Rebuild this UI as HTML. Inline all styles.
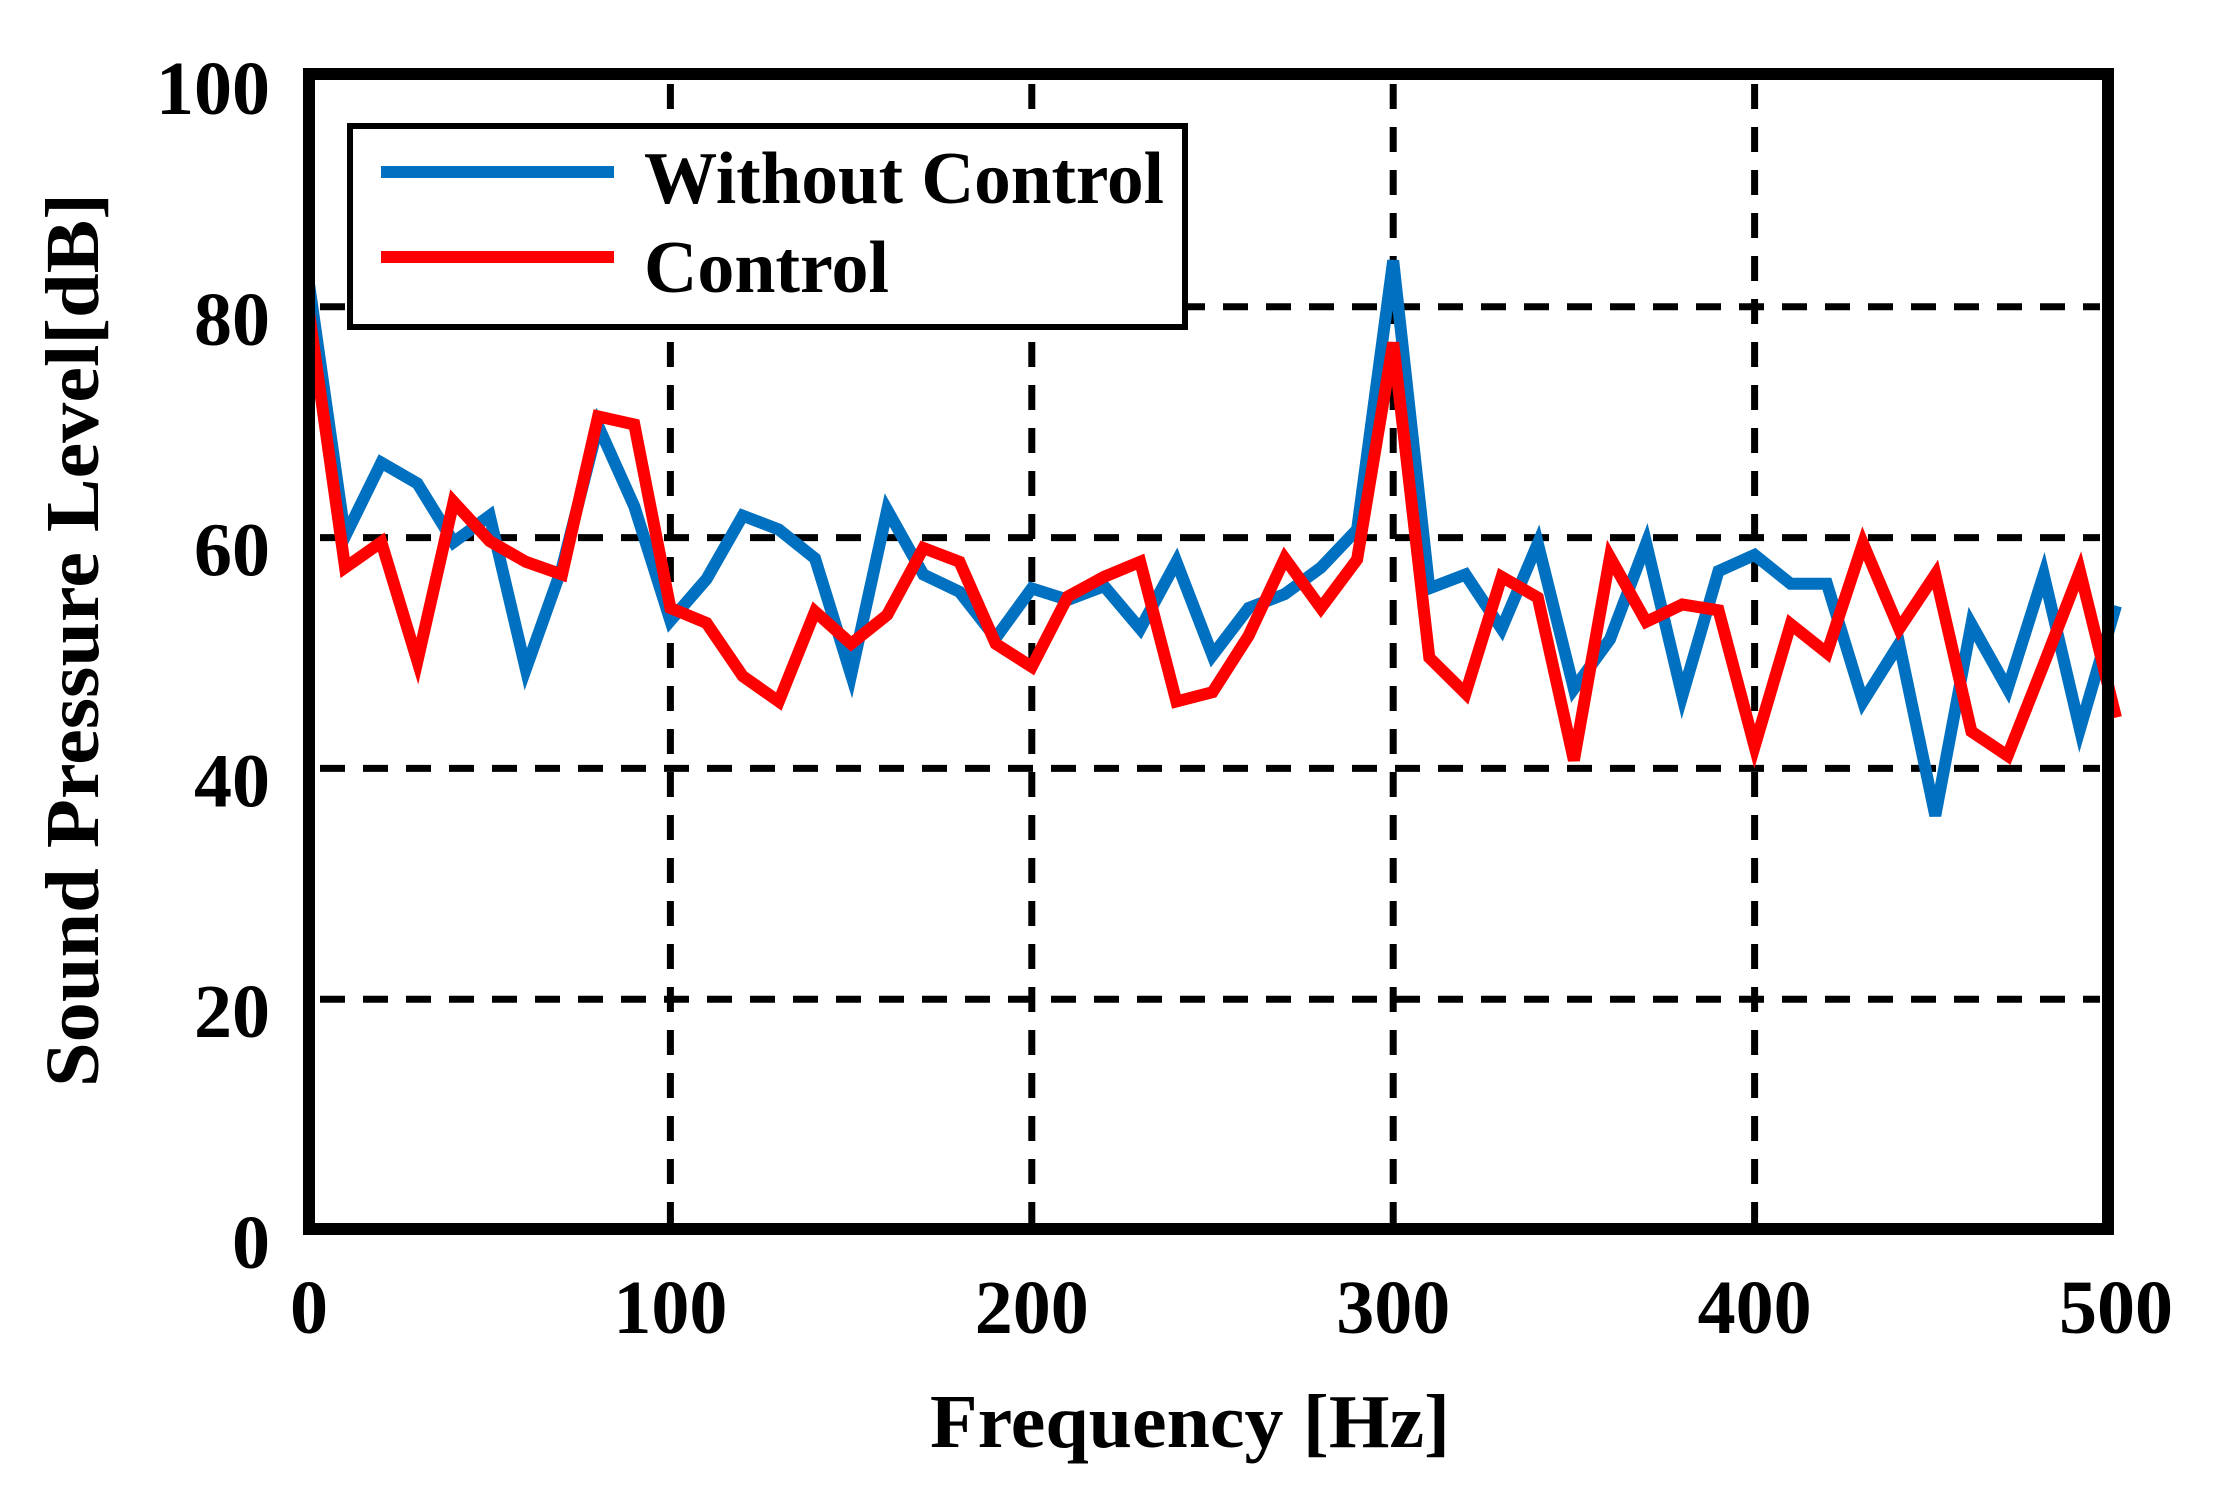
<!DOCTYPE html>
<html><head><meta charset="utf-8"><style>
html,body{margin:0;padding:0;background:#fff;}
svg{display:block;}
text{font-family:"Liberation Serif",serif;font-weight:bold;fill:#000;}
</style></head><body>
<svg id="chart" width="2218" height="1485" viewBox="0 0 2218 1485" xmlns="http://www.w3.org/2000/svg">
<g id="grid"></g>
<g id="series"></g>
<rect x="309" y="74" width="1799" height="1155" fill="none" stroke="#000" stroke-width="12"/>
<g id="ticks"></g>
<text x="930" y="1447" font-size="76" textLength="520" lengthAdjust="spacingAndGlyphs">Frequency  [Hz]</text>
<text transform="translate(98,640) rotate(-90)" x="0" y="0" font-size="76" text-anchor="middle" textLength="894" lengthAdjust="spacingAndGlyphs">Sound  Pressure Level[dB]</text>
<g>
<rect x="350" y="126" width="835" height="201" fill="#fff" stroke="#000" stroke-width="6"/>
<line x1="381" y1="172" x2="614" y2="172" stroke="#0070C0" stroke-width="12"/>
<text x="644" y="203" font-size="74" textLength="520" lengthAdjust="spacingAndGlyphs">Without Control</text>
<line x1="381" y1="257" x2="614" y2="257" stroke="#FF0000" stroke-width="12"/>
<text x="644" y="292" font-size="74" textLength="245" lengthAdjust="spacingAndGlyphs">Control</text>
</g>
</svg>
<script>
const freqs = [0,10,20,30,40,50,60,70,80,90,100,110,120,130,140,150,160,170,180,190,200,210,220,230,240,250,260,270,280,290,300,310,320,330,340,350,360,370,380,390,400,410,420,430,440,450,460,470,480,490,500];
const withoutControl = [82,60.1,66.5,64.7,59.6,61.9,48.6,57.4,69.7,62.7,52.8,56.4,61.9,60.7,58.2,48.1,62.4,56.8,55.3,51.3,55.6,54.6,55.8,52.1,57.9,49.8,53.9,55.1,57.4,60.7,84.0,55.6,56.8,52.1,59.5,46.9,51.2,59.5,46.3,57.1,58.5,56.0,56.0,45.8,50.8,35.9,52.5,46.9,56.8,43.4,54.1];
const control = [79.5,57.4,59.6,49.3,63.1,59.7,57.9,56.8,70.5,69.8,53.9,52.6,48.0,45.8,53.6,50.8,53.3,59.1,57.9,50.8,48.8,54.9,56.6,57.9,45.8,46.6,51.5,58.2,53.9,58.1,76.9,49.6,46.5,56.6,54.8,40.7,58.3,52.7,54.2,53.7,41.9,52.5,50.0,59.5,52.1,56.8,43.2,41.1,49.0,57.1,44.4];
const xTicks = [0,100,200,300,400,500];
const yTicks = [0,20,40,60,80,100];
const NS = "http://www.w3.org/2000/svg";
function xs(v){ return 309 + v * 3.614; }
function ys(v){ return 1230 - v * 11.54; }
const grid = document.getElementById('grid');
const ticks = document.getElementById('ticks');
const series = document.getElementById('series');
xTicks.forEach(function(t){
  if (t > 0 && t < 500) {
    const l = document.createElementNS(NS,'line');
    
    
    l.setAttribute('x1', xs(t)); l.setAttribute('x2', xs(t));
    l.setAttribute('y1', 84); l.setAttribute('y2', 1224);
    l.setAttribute('stroke', '#000'); l.setAttribute('stroke-width', 7);
    l.setAttribute('stroke-dasharray', '25 18');
    grid.appendChild(l);
  }
  const tx = document.createElementNS(NS,'text');
  
  
  tx.setAttribute('x', xs(t)); tx.setAttribute('y', 1333);
  tx.setAttribute('font-size', 76); tx.setAttribute('text-anchor', 'middle');
  tx.textContent = t;
  ticks.appendChild(tx);
});
yTicks.forEach(function(t){
  if (t > 0 && t < 100) {
    const l = document.createElementNS(NS,'line');
    
    
    l.setAttribute('x1', 320); l.setAttribute('x2', 2100);
    l.setAttribute('y1', ys(t)); l.setAttribute('y2', ys(t));
    l.setAttribute('stroke', '#000'); l.setAttribute('stroke-width', 7);
    l.setAttribute('stroke-dasharray', '25 18');
    grid.appendChild(l);
  }
  const tx = document.createElementNS(NS,'text');
  
  
  tx.setAttribute('x', 270); tx.setAttribute('y', ys(t) + 38);
  tx.setAttribute('font-size', 76); tx.setAttribute('text-anchor', 'end');
  tx.textContent = t;
  ticks.appendChild(tx);
});
function drawLine(vals, color, name){
  const p = document.createElementNS(NS,'polyline');
  
  
  p.setAttribute('points', vals.map(function(v,i){ return xs(freqs[i]).toFixed(1)+','+ys(v).toFixed(1); }).join(' '));
  p.setAttribute('fill', 'none'); p.setAttribute('stroke', color);
  p.setAttribute('stroke-width', 12); p.setAttribute('stroke-linejoin', 'miter');
  series.appendChild(p);
}
drawLine(withoutControl, '#0070C0', 'without-control-line');
drawLine(control, '#FF0000', 'control-line');
</script>
</body></html>
